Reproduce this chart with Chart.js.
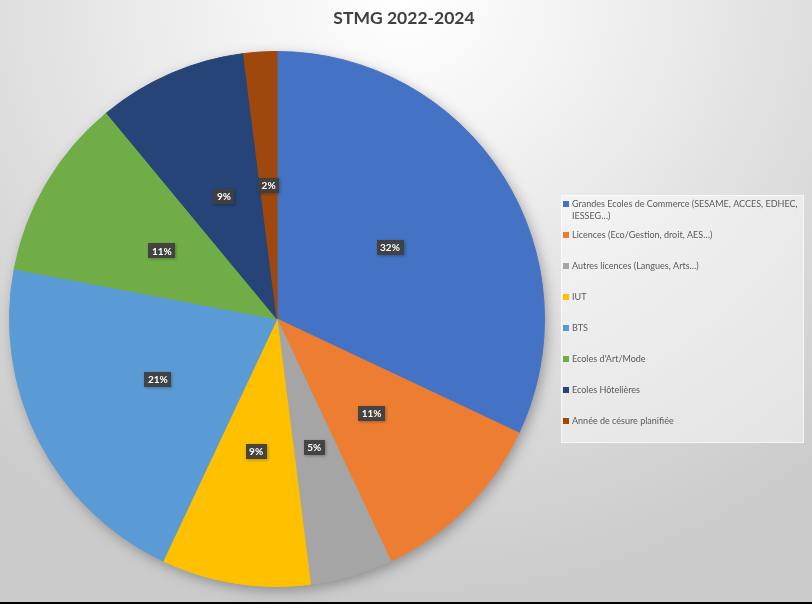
<!DOCTYPE html>
<html>
<head>
<meta charset="utf-8">
<title>STMG 2022-2024</title>
<script src="https://cdn.jsdelivr.net/npm/chart.js@4.4.0/dist/chart.umd.min.js"></script>
<style>
  html, body { margin: 0; padding: 0; background: #000; }
  #wrap {
    width: 812px; height: 602px;
    background: radial-gradient(ellipse 80% 100% at 50% 0%, #ffffff 0%, #eeeeee 35%, #dadada 70%, #cbcbcb 100%);
  }
  canvas { display: block; }
</style>
</head>
<body>
<div id="wrap"><canvas id="pieChart" width="812" height="602"></canvas></div>
<script>
var chartTitle = 'STMG 2022-2024';
var categories = [
    'Grandes Ecoles de Commerce (SESAME, ACCES, EDHEC, IESSEG…)',
    'Licences (Eco/Gestion, droit, AES…)',
    'Autres licences (Langues, Arts…)',
    'IUT',
    'BTS',
    "Ecoles d'Art/Mode",
    'Ecoles Hôtelières',
    'Année de césure planifiée'
];
var percentValues = [32, 11, 5, 9, 21, 11, 9, 2];
var sliceColors = ['#4472C4', '#ED7D31', '#A5A5A5', '#FFC000', '#5B9BD5', '#70AD47', '#264478', '#9E480E'];

var fontFamily = 'Lato, "Open Sans", sans-serif';

// soft shadow under the whole pie, drawn once before the slices
var pieShadow = {
    id: 'pieShadow',
    beforeDatasetsDraw: function(chart) {
        var arc = chart.getDatasetMeta(0).data[0];
        if (!arc) return;
        var ctx = chart.ctx;
        ctx.save();
        ctx.shadowColor = 'rgba(0, 0, 0, 0.35)';
        ctx.shadowBlur = 14;
        ctx.shadowOffsetX = 3;
        ctx.shadowOffsetY = 4;
        ctx.fillStyle = '#8a8a8a';
        ctx.beginPath();
        ctx.arc(arc.x, arc.y, arc.outerRadius - 1, 0, Math.PI * 2);
        ctx.fill();
        ctx.restore();
    }
};

// dark boxes with the percentage in each slice
var sliceLabels = {
    id: 'sliceLabels',
    afterDatasetsDraw: function(chart) {
        var ctx = chart.ctx;
        var data = chart.data.datasets[0].data;
        ctx.save();
        ctx.font = 'bold 10px ' + fontFamily;
        ctx.textAlign = 'center';
        ctx.textBaseline = 'middle';
        chart.getDatasetMeta(0).data.forEach(function(arc, i) {
            var pos = arc.tooltipPosition();
            var txt = data[i] + '%';
            var w = ctx.measureText(txt).width + 7;
            var h = 15;
            ctx.shadowColor = 'rgba(0, 0, 0, 0.3)';
            ctx.shadowBlur = 3;
            ctx.shadowOffsetX = 1;
            ctx.shadowOffsetY = 1;
            ctx.fillStyle = 'rgba(64, 64, 64, 0.95)';
            ctx.fillRect(Math.round(pos.x - w / 2), Math.round(pos.y - h / 2), Math.round(w), h);
            ctx.shadowColor = 'transparent';
            ctx.fillStyle = '#ffffff';
            ctx.fillText(txt, pos.x, pos.y + 0.5);
        });
        ctx.restore();
    }
};

// title and legend panel on the right
var sideParts = {
    id: 'sideParts',
    afterDraw: function(chart) {
        var ctx = chart.ctx;
        ctx.save();

        // title, sized to the reference width
        ctx.font = 'bold 10px ' + fontFamily;
        var tSize = 10 * 141 / ctx.measureText(chartTitle).width;
        ctx.font = 'bold ' + tSize.toFixed(1) + 'px ' + fontFamily;
        ctx.fillStyle = '#404040';
        ctx.textAlign = 'center';
        ctx.textBaseline = 'middle';
        ctx.fillText(chartTitle, 404, 18);

        // legend panel
        var bx = 561, by = 195, bw = 243, bh = 248;
        ctx.fillStyle = 'rgba(255, 255, 255, 0.45)';
        ctx.fillRect(bx, by, bw, bh);
        ctx.strokeStyle = 'rgba(255, 255, 255, 0.6)';
        ctx.lineWidth = 1;
        ctx.strokeRect(bx + 0.5, by + 0.5, bw - 1, bh - 1);

        ctx.font = '10px ' + fontFamily;
        var lSize = 10 * 226 / ctx.measureText('Grandes Ecoles de Commerce (SESAME, ACCES, EDHEC,').width;
        ctx.font = lSize.toFixed(2) + 'px ' + fontFamily;
        ctx.textAlign = 'left';
        var maxW = 232;
        var colors = chart.data.datasets[0].backgroundColor;
        chart.data.labels.forEach(function(label, i) {
            var y = 204 + i * 31;
            ctx.fillStyle = colors[i];
            ctx.fillRect(563, y - 3, 6, 6);
            // wrap long labels
            var words = label.split(' ');
            var lines = [], line = '';
            words.forEach(function(wd) {
                var test = line ? line + ' ' + wd : wd;
                if (ctx.measureText(test).width > maxW && line) {
                    lines.push(line);
                    line = wd;
                } else {
                    line = test;
                }
            });
            lines.push(line);
            ctx.fillStyle = '#595959';
            lines.forEach(function(l, k) {
                ctx.fillText(l, 572, y + k * 12);
            });
        });
        ctx.restore();
    }
};

var ctx = document.getElementById('pieChart').getContext('2d');
var pieChart = new Chart(ctx, {
    type: 'pie',
    data: {
        labels: categories,
        datasets: [{
            data: percentValues,
            backgroundColor: sliceColors,
            borderColor: sliceColors,
            borderWidth: 1
        }]
    },
    options: {
        responsive: false,
        animation: false,
        layout: {
            padding: { top: 51, bottom: 15, left: 9, right: 267 }
        },
        plugins: {
            legend: { display: false },
            title: { display: false },
            tooltip: { enabled: false }
        }
    },
    plugins: [pieShadow, sliceLabels, sideParts]
});
</script>
</body>
</html>
